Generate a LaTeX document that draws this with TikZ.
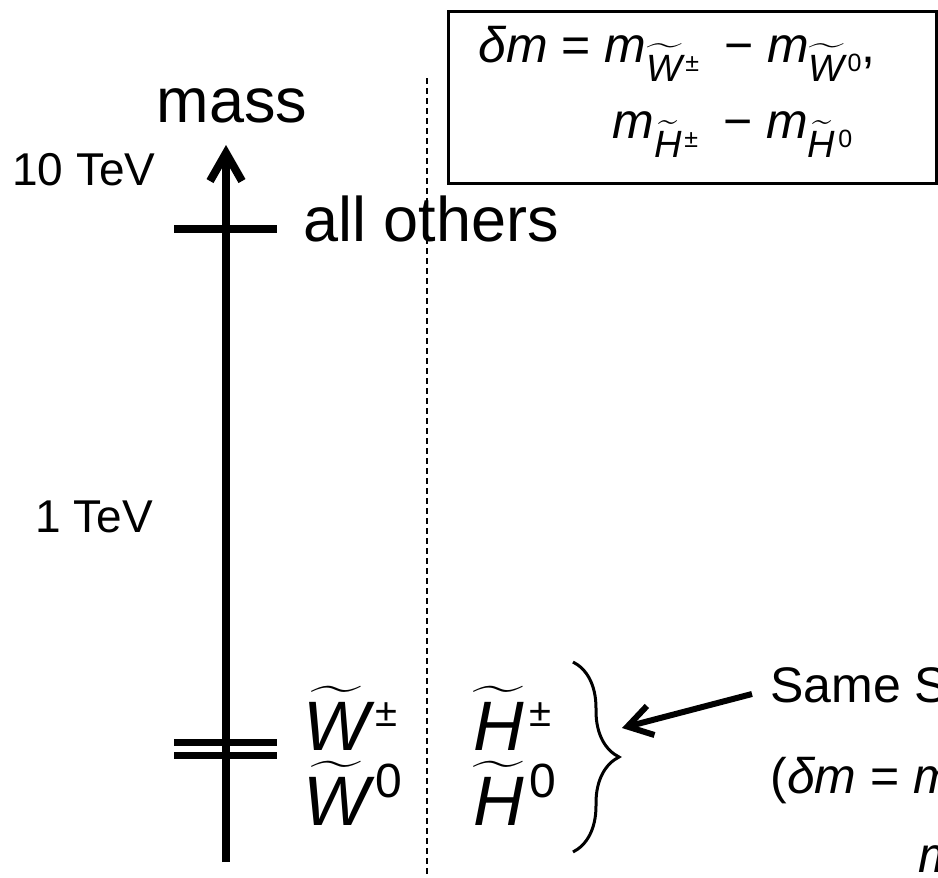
\RequirePackage{fix-cm}
\documentclass[tikz,border=0pt]{standalone}
\usepackage{amsmath}
\usepackage{fontspec}
\setmainfont{Liberation Sans}
\usetikzlibrary{arrows.meta,decorations.pathreplacing}

\newcommand{\wino}{\widetilde{\textit{W}}}
\newcommand{\hino}{\widetilde{\textit{H}}}
% index set beside a state label
\newcommand{\zeroidx}{\hspace{3pt}\raisebox{14pt}{\fontsize{24}{28}\selectfont 0}}
\newcommand{\pmidx}{\hspace{3pt}\raisebox{12pt}{\fontsize{20}{24}\selectfont ±}}
% subscript of m in the box
\newcommand{\boxsub}[2]{\raisebox{-9.5pt}{\fontsize{19}{22}\selectfont $#1$\hspace{1.5pt}\raisebox{5pt}{\fontsize{12.5}{14}\selectfont #2}}}
\newcommand{\mns}{\hspace{0.5em}−\ }

\begin{document}
\begin{tikzpicture}[x=0.5pt,y=-0.5pt,
  lbl/.style={inner sep=0pt,anchor=base west},
  big/.style={font=\fontsize{31.5}{36}\selectfont},
  tev/.style={font=\fontsize{23}{28}\selectfont},
  part/.style={font=\fontsize{35}{40}\selectfont},
  note/.style={font=\fontsize{25}{30}\selectfont},
  levl/.style={line width=4pt},
  dlevl/.style={line width=3.5pt}]
\useasboundingbox (0,0) rectangle (938,878);
\clip (0,0) rectangle (938,878);
\coordinate (bot) at (226,862); \coordinate (top) at (226,145);
\draw[line width=4pt,-{Straight Barb[length=14pt,width=16pt]}] (bot)--(top);
\node[inner sep=0pt,anchor=base,big] (mass) at (232,122) {mass};
\node[lbl,tev] (ten) at (12,185) {10 TeV};
\node[lbl,tev] (one) at (35,532) {1 TeV};
% heavy states
\draw[levl] (174,229)--(277,229);
\node[lbl,big] (others) at (303,241) {all others};
% light states
\draw[dlevl] (174,742)--(277,742);
\draw[dlevl] (174,755)--(277,755);
\node[lbl,part] (wpm) at (303,750) {$\wino$\pmidx};
\node[lbl,part] (w0) at (303,825) {$\wino$\zeroidx};
\node[lbl,part] (hpm) at (473,750) {$\hino$\pmidx};
\node[lbl,part] (h0) at (473,825) {$\hino$\zeroidx};
\draw[line width=0.75pt,dash pattern=on 3pt off 2pt] (427,78)--(427,878);
\draw[line width=1.5pt,decorate,decoration={brace,amplitude=23pt}] (573,662)--(573,852);
\coordinate (brtip) at (622,728);
% mass splitting
\node[draw,line width=1.25pt,anchor=north west,inner sep=0pt,minimum width=244pt,minimum height=86pt] (dmbox) at (447,10) {};
\node[lbl,note] (dm1) at (478,62) {\textit{δm} = \textit{m}\boxsub{\wino}{±}\mns\textit{m}\boxsub{\wino}{0},};
\node[lbl,note] (dm2) at (612,138) {\textit{m}\boxsub{\hino}{±}\mns\textit{m}\boxsub{\hino}{0}};
\node[lbl,note] (same) at (770,702) {Same S};
\node[lbl,note] (dm3) at (770,793) {(\textit{δm} = \textit{m}};
\node[lbl,note] (dm4) at (918,872) {\textit{m}};
\draw[line width=3pt,-{Straight Barb[length=12pt,width=15pt]}] ([shift={(-18,-8)}]same.base west)--(brtip);
\end{tikzpicture}
\end{document}
